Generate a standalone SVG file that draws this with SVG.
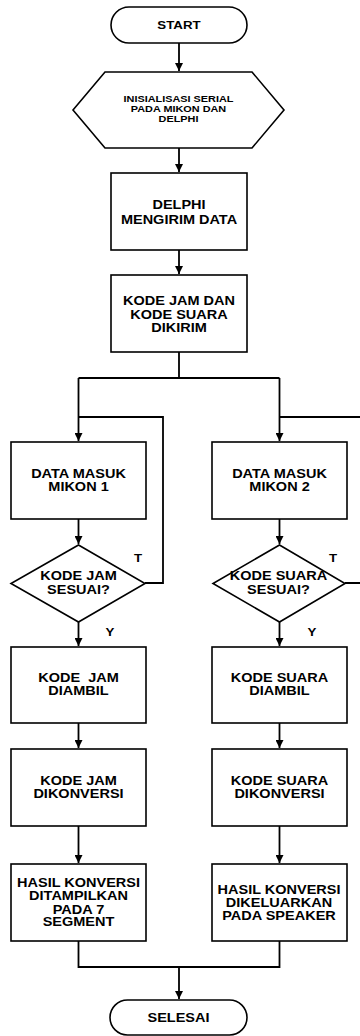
<svg xmlns="http://www.w3.org/2000/svg" width="360" height="1036" viewBox="0 0 360 1036">
<style>
.s{fill:#fff;stroke:#000;stroke-width:1.6}
.c{fill:none;stroke:#000;stroke-width:1.8}
text{font-family:"Liberation Sans",Arial,sans-serif;font-weight:bold;font-size:12px;fill:#000;text-anchor:middle}
.sm{font-size:9px}
.m{font-size:11px}
</style>
<defs>
<marker id="ah" markerUnits="userSpaceOnUse" markerWidth="9" markerHeight="8" refX="8" refY="4" orient="auto">
<path d="M0,0 L8,4 L0,8 z" fill="#000"/>
</marker>
</defs>
<g id="connectors">
<path class="c" d="M179,43 V71" marker-end="url(#ah)"/>
<path class="c" d="M179,148 V172" marker-end="url(#ah)"/>
<path class="c" d="M179,250 V274" marker-end="url(#ah)"/>
<path class="c" d="M179,352 V378 M78.5,378 H279.5"/>
<path class="c" d="M78.5,378 V441" marker-end="url(#ah)"/>
<path class="c" d="M279.5,378 V441" marker-end="url(#ah)"/>
<path class="c" d="M145,583 H163 V417 H78.5"/>
<path class="c" d="M345,583 H364 V417 H279.5"/>
<path class="c" d="M78.5,519 V544" marker-end="url(#ah)"/>
<path class="c" d="M279.5,519 V544" marker-end="url(#ah)"/>
<path class="c" d="M78.5,622 V646" marker-end="url(#ah)"/>
<path class="c" d="M279.5,622 V646" marker-end="url(#ah)"/>
<path class="c" d="M78.5,723 V748" marker-end="url(#ah)"/>
<path class="c" d="M279.5,723 V748" marker-end="url(#ah)"/>
<path class="c" d="M78.5,826 V863" marker-end="url(#ah)"/>
<path class="c" d="M279.5,826 V863" marker-end="url(#ah)"/>
<path class="c" d="M78.5,941 V967 H279.5 V941"/>
<path class="c" d="M179,967 V999" marker-end="url(#ah)"/>
<text class="m" transform="translate(138 0) scale(1.21 1)" y="562">T</text>
<text class="m" transform="translate(333 0) scale(1.21 1)" y="562">T</text>
<text class="m" transform="translate(110 0) scale(1.21 1)" y="636.5">Y</text>
<text class="m" transform="translate(312 0) scale(1.21 1)" y="636.5">Y</text>
</g>
<g id="start">
<rect class="s" x="111" y="7" width="136" height="36" rx="18" ry="18"/>
<text class="m" transform="translate(179 0) scale(1.21 1)" y="29">START</text>
</g>
<g id="init">
<polygon class="s" points="105,72 252,72 284,110 252,148 105,148 73,110"/>
<text class="sm" transform="translate(178.5 0) scale(1.21 1)" y="102.5">INISIALISASI SERIAL</text>
<text class="sm" transform="translate(178.5 0) scale(1.21 1)" y="112.5">PADA MIKON DAN</text>
<text class="sm" transform="translate(178.5 0) scale(1.21 1)" y="122.5">DELPHI</text>
</g>
<g id="delphi">
<rect class="s" x="111" y="173" width="136" height="77"/>
<text transform="translate(179 0) scale(1.21 1)" y="209">DELPHI</text>
<text transform="translate(179 0) scale(1.21 1)" y="224">MENGIRIM DATA</text>
</g>
<g id="kirim">
<rect class="s" x="111" y="275" width="136" height="77"/>
<text transform="translate(179 0) scale(1.21 1)" y="305.5">KODE JAM DAN</text>
<text transform="translate(179 0) scale(1.21 1)" y="319">KODE SUARA</text>
<text transform="translate(179 0) scale(1.21 1)" y="332">DIKIRIM</text>
</g>
<g id="mikon1">
<rect class="s" x="11" y="442" width="135" height="77"/>
<text transform="translate(78.5 0) scale(1.21 1)" y="478">DATA MASUK</text>
<text transform="translate(78.5 0) scale(1.21 1)" y="491.5">MIKON 1</text>
</g>
<g id="mikon2">
<rect class="s" x="212" y="442" width="135" height="77"/>
<text transform="translate(279.5 0) scale(1.21 1)" y="478">DATA MASUK</text>
<text transform="translate(279.5 0) scale(1.21 1)" y="491.5">MIKON 2</text>
</g>
<g id="cekjam">
<polygon class="s" points="78.5,545 145,583.5 78.5,622 11,583.5"/>
<text transform="translate(78.5 0) scale(1.21 1)" y="580.5">KODE JAM</text>
<text transform="translate(78.5 0) scale(1.21 1)" y="594">SESUAI?</text>
</g>
<g id="ceksuara">
<polygon class="s" points="279.5,545 345,583.5 279.5,622 213,583.5"/>
<text transform="translate(278.5 0) scale(1.21 1)" y="580.5">KODE SUARA</text>
<text transform="translate(278.5 0) scale(1.21 1)" y="594">SESUAI?</text>
</g>
<g id="ambiljam">
<rect class="s" x="11" y="647" width="135" height="76"/>
<text transform="translate(78.5 0) scale(1.21 1)" y="682" style="white-space:pre">KODE  JAM</text>
<text transform="translate(78.5 0) scale(1.21 1)" y="695.5">DIAMBIL</text>
</g>
<g id="ambilsuara">
<rect class="s" x="212" y="647" width="135" height="76"/>
<text transform="translate(279.5 0) scale(1.21 1)" y="682">KODE SUARA</text>
<text transform="translate(279.5 0) scale(1.21 1)" y="695.5">DIAMBIL</text>
</g>
<g id="konversijam">
<rect class="s" x="11" y="749" width="135" height="77"/>
<text transform="translate(78.5 0) scale(1.21 1)" y="785">KODE JAM</text>
<text transform="translate(78.5 0) scale(1.21 1)" y="798">DIKONVERSI</text>
</g>
<g id="konversisuara">
<rect class="s" x="212" y="749" width="135" height="77"/>
<text transform="translate(279.5 0) scale(1.21 1)" y="785">KODE SUARA</text>
<text transform="translate(279.5 0) scale(1.21 1)" y="798">DIKONVERSI</text>
</g>
<g id="tampil">
<rect class="s" x="11" y="864" width="135" height="77"/>
<text transform="translate(78.5 0) scale(1.21 1)" y="887">HASIL KONVERSI</text>
<text transform="translate(78.5 0) scale(1.21 1)" y="900.5">DITAMPILKAN</text>
<text transform="translate(78.5 0) scale(1.21 1)" y="914">PADA 7</text>
<text transform="translate(78.5 0) scale(1.21 1)" y="926.5">SEGMENT</text>
</g>
<g id="speaker">
<rect class="s" x="212" y="864" width="135" height="77"/>
<text transform="translate(279 0) scale(1.21 1)" y="894">HASIL KONVERSI</text>
<text transform="translate(279 0) scale(1.21 1)" y="907">DIKELUARKAN</text>
<text transform="translate(279 0) scale(1.21 1)" y="920">PADA SPEAKER</text>
</g>
<g id="selesai">
<rect class="s" x="110" y="1000" width="137" height="35" rx="17.5" ry="17.5"/>
<text transform="translate(178.5 0) scale(1.21 1)" y="1022">SELESAI</text>
</g>
</svg>
